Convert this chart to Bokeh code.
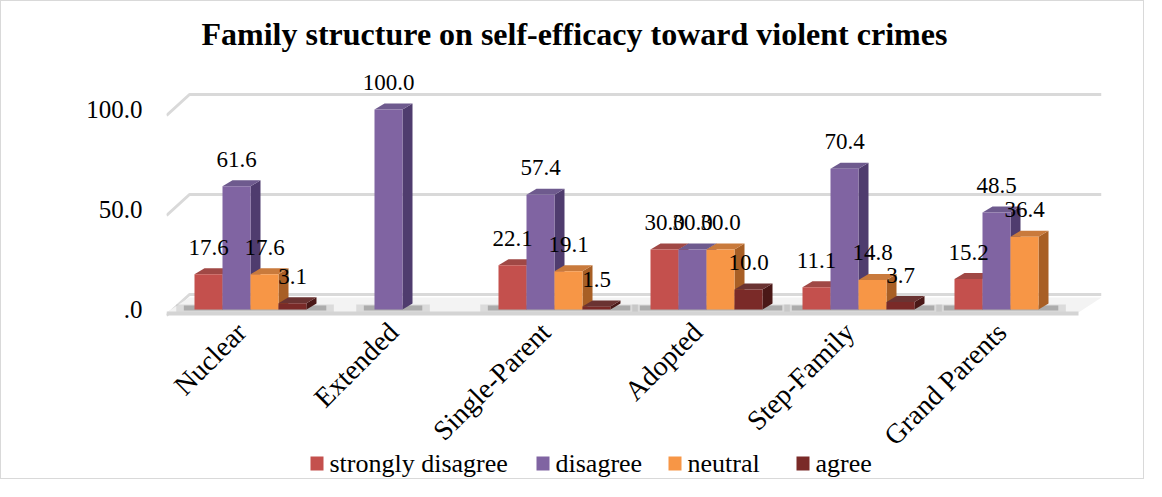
import math
from bokeh.plotting import figure
from bokeh.models import FixedTicker, Range1d
from bokeh.core.properties import value
from bokeh.embed import file_html
from bokeh.resources import INLINE

# ---------------- data ----------------
categories = ["Nuclear", "Extended", "Single-Parent", "Adopted", "Step-Family", "Grand Parents"]
series_names = ["strongly disagree", "disagree", "neutral", "agree"]
strongly_disagree = [17.6, 0.0, 22.1, 30.0, 11.1, 15.2]
disagree = [61.6, 100.0, 57.4, 30.0, 70.4, 48.5]
neutral = [17.6, 0.0, 19.1, 30.0, 14.8, 36.4]
agree = [3.1, 0.0, 1.5, 10.0, 3.7, 0.0]
y_ticks = [0, 50, 100]
y_tick_labels = [".0", "50.0", "100.0"]
title_text = "Family structure on self-efficacy toward violent crimes"

series_values = [strongly_disagree, disagree, neutral, agree]

# ---------------- style ----------------
front_colors = ["#C4504D", "#8064A2", "#F79646", "#7A2A28"]
top_colors = ["#A04845", "#6E5A8E", "#C97A3C", "#6A3332"]
side_colors = ["#8A302D", "#4F3C6E", "#A85F25", "#4A1817"]
FONT = "Liberation Serif"

PX_PER_CAT = 152.0
PX_PER_UNIT = 2.0
BAR_W = 28.0 / PX_PER_CAT
SHIFT = 8.0 / PX_PER_CAT
DX = 10.0 / PX_PER_CAT
DY = 6.0 / PX_PER_UNIT
GDX = 23.0 / PX_PER_CAT
GDY = 15.0 / PX_PER_UNIT
LABEL_GAP = 13.5             # data units between bar top and value label anchor
CAT_LABEL_Y = -3.5           # data units below the floor
CAT_LABEL_DX = -12.0 / PX_PER_CAT

W, H = 1144, 479
n = len(categories)
border_left = 165
border_top = 55
border_bottom = 3
zero_px = 308.0              # pixel row of the value 0
x_start = -0.5
x_end = n - 0.5 + GDX
y_end = (zero_px - border_top) / PX_PER_UNIT
frame_w = (x_end - x_start) * PX_PER_CAT
frame_h = H - border_top - border_bottom
y_start = y_end - frame_h / PX_PER_UNIT
border_right = int(round(W - border_left - frame_w))


def px_to_x(px):
    return (px - border_left) / PX_PER_CAT + x_start


def px_to_y(py):
    return (zero_px - py) / PX_PER_UNIT


# legend layout (pixels)
LEGEND_SQ_LEFT = [309, 535, 667, 795]
LEGEND_ROW = 462

p = figure(width=W, height=H, output_backend="svg", toolbar_location=None,
           x_range=Range1d(x_start, x_end), y_range=Range1d(y_start, y_end),
           min_border_left=border_left, min_border_right=border_right,
           min_border_top=border_top, min_border_bottom=border_bottom,
           tools="")
p.styles = {"border": "1px solid #D9D9D9"}
p.outline_line_color = None
p.background_fill_color = "white"
p.border_fill_color = "white"
p.xgrid.visible = False
p.ygrid.visible = False
p.xaxis.visible = False

# title
p.title.text = title_text
p.title.text_font = FONT
p.title.text_font_size = "32px"
p.title.text_font_style = "bold"
p.title.text_color = "black"
p.title.align = "left"
p.title.offset = 35

# y axis
p.yaxis.ticker = FixedTicker(ticks=y_ticks)
p.yaxis.major_label_overrides = {t: l for t, l in zip(y_ticks, y_tick_labels)}
p.yaxis.major_label_text_font = FONT
p.yaxis.major_label_text_font_size = "25px"
p.yaxis.major_label_text_color = "black"
p.yaxis.axis_line_color = None
p.yaxis.major_tick_line_color = None
p.yaxis.minor_tick_line_color = None
p.yaxis.major_label_standoff = 18

# back-wall gridlines (3D look)
gx = [[x_start, x_start + GDX, x_end] for t in y_ticks]
gy = [[t - 3, t + GDY, t + GDY] for t in y_ticks]
p.multi_line(gx, gy, line_color="#D9D9D9", line_width=3)

# floor
p.patch([x_start, n - 0.5, n - 0.5 + GDX, x_start + GDX],
        [-1.5, -1.5, GDY - 1.5, GDY - 1.5], fill_color="#F3F3F3", line_color=None)
p.segment(x0=[x_start], y0=[-2.0], x1=[n - 0.5], y1=[-2.0], line_color="#D4D4D4", line_width=4)

# shadows under bar groups
sh_l, sh_r = [], []
for i in range(n):
    vals = [s[i] for s in series_values]
    idx = [j for j, v in enumerate(vals) if v > 0]
    sh_l.append(i + SHIFT + (min(idx) - 2) * BAR_W - 0.12)
    sh_r.append(i + SHIFT + (max(idx) - 1) * BAR_W + 0.18)
p.quad(left=sh_l, right=sh_r, bottom=[-1.0] * n, top=[2.5] * n,
       fill_color="#7F7F7F", fill_alpha=0.2, line_color=None)
p.quad(left=[l + 0.05 for l in sh_l], right=[r - 0.05 for r in sh_r], bottom=[-0.5] * n, top=[2.0] * n,
       fill_color="#404040", fill_alpha=0.3, line_color=None)

# bars with 3D sides
side_xs, side_ys, side_c = [], [], []
top_xs, top_ys, top_c = [], [], []
fronts = []
for j, vals in enumerate(series_values):
    lefts, rights, tops = [], [], []
    for i, v in enumerate(vals):
        if v <= 0:
            continue
        x0 = i + SHIFT + (j - 2) * BAR_W
        x1 = x0 + BAR_W
        side_xs.append([x1, x1 + DX, x1 + DX, x1])
        side_ys.append([0, DY, v + DY, v])
        side_c.append(side_colors[j])
        top_xs.append([x0, x1, x1 + DX, x0 + DX])
        top_ys.append([v, v, v + DY, v + DY])
        top_c.append(top_colors[j])
        lefts.append(x0)
        rights.append(x1)
        tops.append(v)
    fronts.append((lefts, rights, tops))

p.patches(side_xs, side_ys, fill_color=side_c, line_color=None)
p.patches(top_xs, top_ys, fill_color=top_c, line_color=None)

for j, (lefts, rights, tops) in enumerate(fronts):
    p.quad(left=lefts, right=rights, bottom=[0] * len(lefts), top=tops,
           fill_color=front_colors[j], line_color=None)

# data labels
lx, ly, lt = [], [], []
for j, (lefts, rights, tops) in enumerate(fronts):
    for l, r, t in zip(lefts, rights, tops):
        lx.append((l + r) / 2)
        ly.append(t + LABEL_GAP)
        lt.append(f"{t:.1f}")
p.text(x=lx, y=ly, text=lt, text_font=value(FONT), text_font_size="23px",
       text_color="black", text_align="center", text_baseline="alphabetic")

# category labels (rotated 45 degrees, like the category axis)
p.text(x=[i + CAT_LABEL_DX for i in range(n)], y=[CAT_LABEL_Y] * n, text=categories,
       angle=math.pi / 4, text_font=value(FONT), text_font_size="28px", text_color="black",
       text_align="right", text_baseline="top")

# legend (drawn as marks so the serif font is kept)
leg_y = px_to_y(LEGEND_ROW)
p.rect(x=[px_to_x(px + 6.5) for px in LEGEND_SQ_LEFT], y=[leg_y] * len(series_names),
       width=13, height=14, width_units="screen", height_units="screen",
       fill_color=front_colors, line_color=None)
p.text(x=[px_to_x(px + 19) for px in LEGEND_SQ_LEFT], y=[leg_y] * len(series_names),
       text=series_names, text_font=value(FONT), text_font_size="26px", text_color="black",
       text_align="left", text_baseline="middle")

open("out.html", "w").write(file_html(p, INLINE))
